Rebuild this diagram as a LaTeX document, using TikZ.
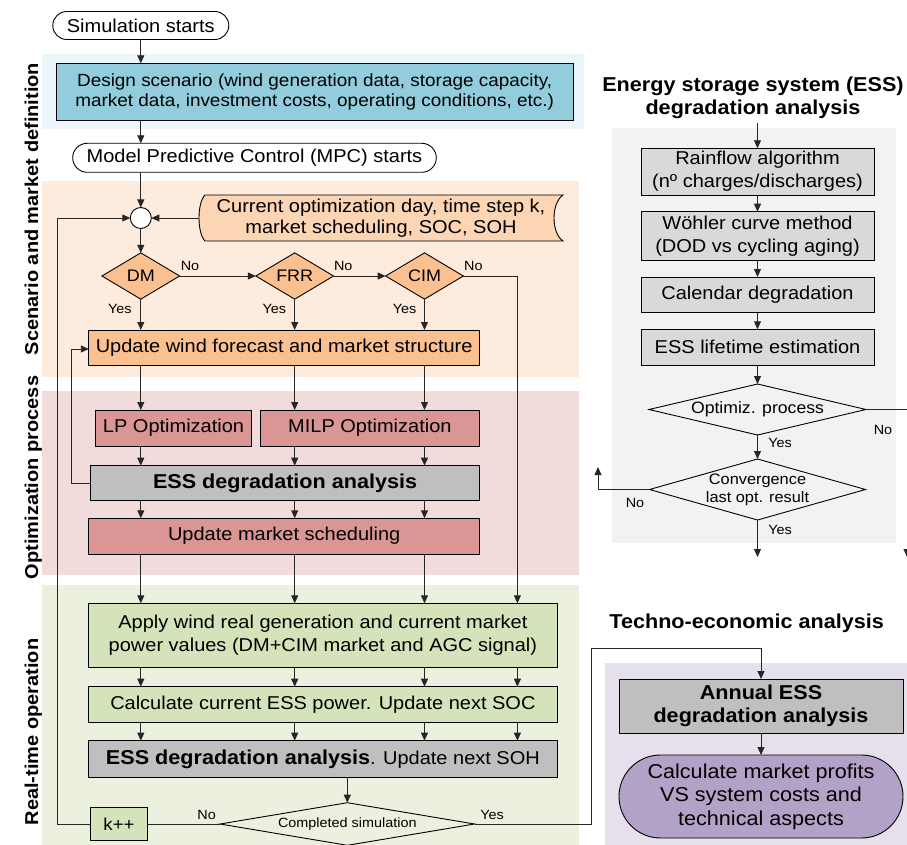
\documentclass[tikz,border=0pt]{standalone}
\usepackage{fontspec}
\setmainfont{Liberation Sans}[FakeStretch=1.075]
\usetikzlibrary{arrows.meta,shapes.geometric,shapes.misc,calc}
\definecolor{bandBlue}{HTML}{EAF6F9}
\definecolor{designFill}{HTML}{93CDDD}
\definecolor{bandOrange}{HTML}{FDEBDD}
\definecolor{infoFill}{HTML}{FCD5B5}
\definecolor{orangeFill}{HTML}{FAC090}
\definecolor{bandPink}{HTML}{F2DCDB}
\definecolor{redFill}{HTML}{D99694}
\definecolor{grayFill}{HTML}{BFBFBF}
\definecolor{bandGreen}{HTML}{EBF1DE}
\definecolor{greenFill}{HTML}{D5E3BA}
\definecolor{panelGray}{HTML}{F2F2F2}
\definecolor{lgray}{HTML}{D9D9D9}
\definecolor{bandPurple}{HTML}{E5E0EC}
\definecolor{purpleFill}{HTML}{B3A2C7}
\definecolor{linec}{HTML}{262626}
\newcommand\myfM{\fontsize{18.6}{23}\selectfont}
\newcommand\myfD{\fontsize{17.6}{20}\selectfont}
\newcommand\myfI{\fontsize{18.6}{21}\selectfont}
\newcommand\myfB{\fontsize{20.1}{23}\selectfont\bfseries}
\newcommand\myfS{\fontsize{13.4}{15}\selectfont}
\newcommand\myfK{\fontsize{17.3}{19}\selectfont}
\newcommand\myfDia{\fontsize{16.7}{19}\selectfont}
\newcommand\myfOpt{\fontsize{16.4}{19}\selectfont}
\newcommand\myfConv{\fontsize{15.2}{17.7}\selectfont}
\newcommand\myfH{\fontsize{20.1}{23.3}\selectfont\bfseries}
\newcommand\myfP{\fontsize{20.1}{23.3}\selectfont}
\newcommand\myfSide{\fontsize{18.6}{21}\selectfont\bfseries}
\begin{document}
\begin{tikzpicture}[x=1pt,y=-1pt,
  every node/.style={inner sep=0pt,outer sep=0pt,align=center,font=\myfM},
  box/.style={draw=black,line width=0.9pt,rectangle},
  term/.style={rounded rectangle,draw=black,line width=0.9pt,fill=white},
  dia/.style={diamond,draw=black,line width=0.9pt,fill=orangeFill,aspect=1.68,
    minimum width=77.7,minimum height=46.3,font=\myfDia},
  rbox/.style={box,fill=lgray,minimum width=233},
  arr/.style={-{Triangle[length=8pt,width=7pt]},line width=0.9pt,draw=linec},
  ln/.style={line width=0.9pt,draw=linec},
  lab/.style={font=\myfS},
  side/.style={rotate=90,anchor=base,font=\myfSide}]
\useasboundingbox (0,0) rectangle (907,845);
\fill[white] (0,0) rectangle (907,845);
% background bands
\fill[bandBlue] (42,54) rectangle (583.6,129);
\fill[bandOrange] (42,181) rectangle (578.6,376.7);
\fill[bandPink] (42,390.7) rectangle (578.6,575);
\fill[bandGreen] (42,585) rectangle (578.6,845);
\fill[panelGray] (611.7,128) rectangle (896,542.7);
\fill[bandPurple] (605,663) rectangle (907,845);
% side labels
\node[side] (lab1) at (38,209) {Scenario and market definition};
\node[side] (lab2) at (38,477.5) {Optimization process};
\node[side] (lab3) at (38,732) {Real-time operation};
% left column
\node[term,minimum width=176,minimum height=28] (sim) at (140.8,25.5) {Simulation starts};
\node[box,fill=designFill,minimum width=516.7,minimum height=56.7,font=\myfD] (design) at (314.65,91.65)
  {Design scenario (wind generation data, storage capacity,\\market data, investment costs, operating conditions, etc.)};
\node[term,minimum width=363.6,minimum height=29] (mpc) at (254.5,157.8) {Model Predictive Control (MPC) starts};
\node[circle,draw=black,fill=white,line width=0.9pt,minimum size=21] (junc) at (140.8,218) {};
\path[draw=black,line width=0.9pt,fill=infoFill] (205,195) -- (563,195)
  .. controls (551,203) and (551,233) .. (563,241) -- (205,241)
  .. controls (197,233) and (197,203) .. (205,195) -- cycle;
\node[minimum width=364,minimum height=46,font=\myfI] (info) at (381,218)
  {Current optimization day, time step k,\\market scheduling, SOC, SOH};
\node[dia] (dm) at (140.8,276) {DM};
\node[dia] (frr) at (294.7,276) {FRR};
\node[dia] (cim) at (424.5,276) {CIM};
\node[box,fill=orangeFill,minimum width=390.7,minimum height=35.7] (updwind) at (284.15,347.85)
  {Update wind forecast and market structure};
\node[box,fill=redFill,minimum width=155.7,minimum height=36] (lp) at (173.55,428) {LP Optimization};
\node[box,fill=redFill,minimum width=219.3,minimum height=36] (milp) at (369.85,428) {MILP Optimization};
\node[box,fill=grayFill,minimum width=388.8,minimum height=35,font=\myfB] (essopt) at (285.1,483.2)
  {ESS degradation analysis};
\node[box,fill=redFill,minimum width=390.7,minimum height=35.7] (updmkt) at (284.15,536.15)
  {Update market scheduling};
\node[box,fill=greenFill,minimum width=468.2,minimum height=63.7] (apply) at (322.9,635.15)
  {Apply wind real generation and current market\\power values (DM+CIM market and AGC signal)};
\node[box,fill=greenFill,minimum width=468.2,minimum height=36] (calc) at (322.9,704.7)
  {Calculate current ESS power. Update next SOC};
\node[box,fill=grayFill,minimum width=468.2,minimum height=36.3] (soh) at (322.9,758.85)
  {{\myfB ESS degradation analysis}. Update next SOH};
\node[diamond,draw=black,line width=0.9pt,aspect=6,minimum width=254.6,minimum height=42.6,font=\myfS]
  (done) at (347.3,824) {Completed simulation};
\node[box,fill=greenFill,minimum width=56.6,minimum height=32.4,font=\myfK] (kpp) at (119,824) {k++};
% labels left
\node[lab] (nodm) at (190,266) {No};
\node[lab] (nofrr) at (343.3,266) {No};
\node[lab] (nocim) at (473.4,266) {No};
\node[lab] (yesdm) at (119.8,309) {Yes};
\node[lab] (yesfrr) at (274.4,309) {Yes};
\node[lab] (yescim) at (404.5,309) {Yes};
\node[lab] (nodone) at (206.7,815) {No};
\node[lab] (yesdone) at (492,815) {Yes};
% columns
\coordinate (c1) at (140.8,0);
\coordinate (c2) at (294.7,0);
\coordinate (c3) at (424.5,0);
\coordinate (c4) at (517.4,0);
% left connectors
\draw[arr] (sim.south) -- (sim.south |- design.north);
\draw[arr] (design.south -| c1) -- (mpc.north -| c1);
\draw[arr] (mpc.south -| c1) -- (junc.north);
\draw[arr] (info.west) -- (junc.east);
\draw[arr] (junc.south) -- (dm.north);
\draw[arr] (dm.east) -- (frr.west);
\draw[arr] (frr.east) -- (cim.west);
\draw[arr] (dm.south) -- (updwind.north -| c1);
\draw[arr] (frr.south) -- (updwind.north -| c2);
\draw[arr] (cim.south) -- (updwind.north -| c3);
\draw[arr] (updwind.south -| c1) -- (lp.north -| c1);
\draw[arr] (updwind.south -| c2) -- (milp.north -| c2);
\draw[arr] (updwind.south -| c3) -- (milp.north -| c3);
\draw[arr] (lp.south -| c1) -- (essopt.north -| c1);
\draw[arr] (milp.south -| c2) -- (essopt.north -| c2);
\draw[arr] (milp.south -| c3) -- (essopt.north -| c3);
\foreach \c in {c1,c2,c3}{
  \draw[arr] (essopt.south -| \c) -- (updmkt.north -| \c);
  \draw[arr] (updmkt.south -| \c) -- (apply.north -| \c);
}
\foreach \c in {c1,c2,c3,c4}{
  \draw[arr] (apply.south -| \c) -- (calc.north -| \c);
  \draw[arr] (calc.south -| \c) -- (soh.north -| \c);
}
\draw[arr] (cim.east) -| (apply.north -| c4);
\draw[arr] (done.north |- soh.south) -- (done.north);
\draw[ln] (done.west) -- (kpp.east);
\coordinate (lft) at (57.4,218);
\draw[arr] (kpp.west) -| (lft) -- (junc.west);
\coordinate (lft2) at (71.6,349);
\draw[arr] (essopt.west) -| (lft2) -- (lft2 -| updwind.west);
\coordinate (yb) at (591,648.3);
% right panel: ESS degradation
\node[font=\myfH] (ttl1) at (753,98) {Energy storage system (ESS)\\degradation analysis};
\node[rbox,minimum height=46.7] (rain) at (757.5,171.65) {Rainflow algorithm\\(nº charges/discharges)};
\node[rbox,minimum height=48.3] (wohl) at (757.5,235.85) {Wöhler curve method\\(DOD vs cycling aging)};
\node[rbox,minimum height=35.7] (cal) at (757.5,294.85) {Calendar degradation};
\node[rbox,minimum height=35.7] (life) at (757.5,347.15) {ESS lifetime estimation};
\node[diamond,draw=black,line width=0.9pt,aspect=4.25,minimum width=217,minimum height=51,font=\myfOpt]
  (optd) at (757.5,409.5) {Optimiz. process};
\node[diamond,draw=black,line width=0.9pt,minimum width=216,minimum height=61] (convd) at (757.5,489.5) {};
\node[font=\myfConv] (convt) at (757.5,489.5) {Convergence\\last opt. result};
\node[lab] (noopt) at (883,430) {No};
\node[lab] (yesopt) at (780,443) {Yes};
\node[lab] (noconv) at (635,503) {No};
\node[lab] (yesconv) at (780,530) {Yes};
\coordinate (rtop) at (757.5,123);
\coordinate (optno) at (907,409.5);
\coordinate (optend) at (907,557);
\coordinate (convno) at (598,489.5);
\coordinate (convend) at (598,467);
\coordinate (convout) at (757.5,557);
\draw[arr] (rtop) -- (rain.north);
\draw[arr] (rain.south) -- (wohl.north);
\draw[arr] (wohl.south) -- (cal.north);
\draw[arr] (cal.south) -- (life.north);
\draw[arr] (life.south) -- (optd.north);
\draw[arr] (optd.south) -- (convd.north);
\draw[arr] (optd.east) -- (optno) -- (optend);
\draw[arr] (convd.west) -- (convno) -- (convend);
\draw[arr] (convd.south) -- (convout);
% techno-economic
\node[font=\myfH] (ttl2) at (746.7,623) {Techno-economic analysis};
\node[box,fill=grayFill,minimum width=284,minimum height=54,font=\myfB] (annual) at (761,706)
  {Annual ESS\\degradation analysis};
\node[rounded rectangle,draw=black,line width=0.9pt,fill=purpleFill,minimum width=284,minimum height=83,font=\myfP]
  (prof) at (761,796.5) {Calculate market profits\\VS system costs and\\technical aspects};
\draw[arr] (done.east) -| (yb) -| (annual.north);
\draw[arr] (annual.south) -- (prof.north);
\end{tikzpicture}
\end{document}
